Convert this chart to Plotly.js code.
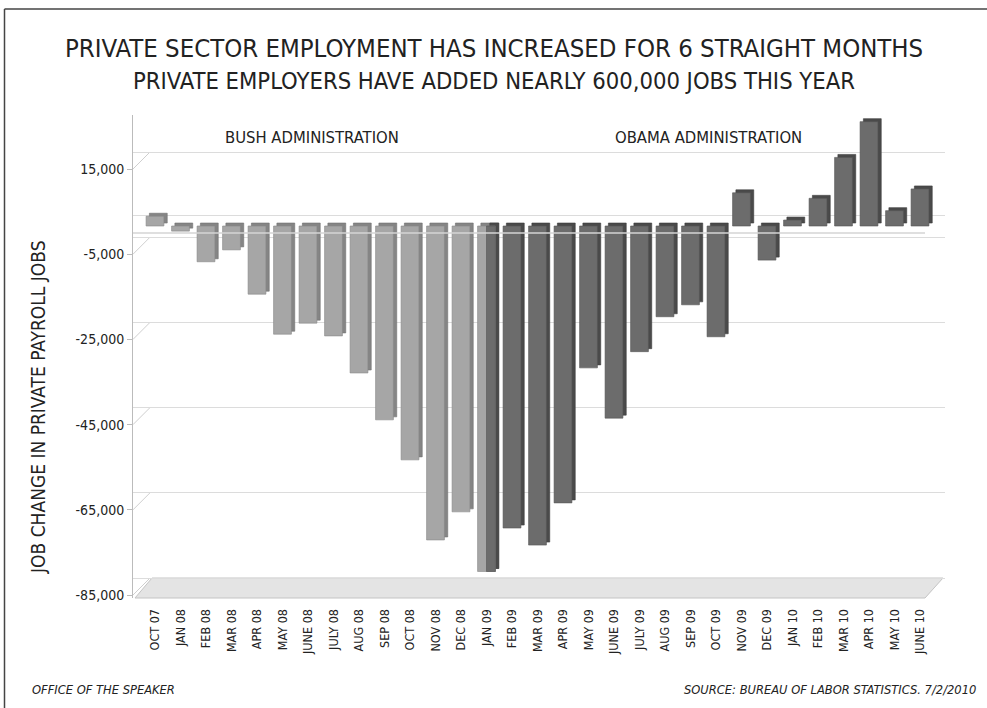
<!DOCTYPE html>
<html><head><meta charset="utf-8">
<script src="https://cdn.plot.ly/plotly-3.0.1.min.js"></script>
<style>html,body{margin:0;padding:0;background:#fff}#chart{width:987px;height:708px}</style>
</head><body><div id="chart"></div>
<script>
// ---- data ----
const months = ['OCT 07','JAN 08','FEB 08','MAR 08','APR 08','MAY 08','JUNE 08','JULY 08','AUG 08','SEP 08',
  'OCT 08','NOV 08','DEC 08','JAN 09','FEB 09','MAR 09','APR 09','MAY 09','JUNE 09','JULY 09','AUG 09',
  'SEP 09','OCT 09','NOV 09','DEC 09','JAN 10','FEB 10','MAR 10','APR 10','MAY 10','JUNE 10'];
const jobs = [2300,-1200,-8400,-5600,-16000,-25400,-22800,-25800,-34500,-45500,
  -54900,-73700,-67100,-81100,-70900,-74900,-65000,-33300,-45100,-29500,-21300,
  -18500,-26000,7800,-8000,1400,6500,16100,24500,3600,8700];
const transitionMonth = 'JAN 09';
const yTicks = [15000,-5000,-25000,-45000,-65000,-85000];
const yTickText = ['15,000','-5,000','-25,000','-45,000','-65,000','-85,000'];
const adminLabels = ['BUSH ADMINISTRATION','OBAMA ADMINISTRATION'];
const titleLines = ['PRIVATE SECTOR EMPLOYMENT HAS INCREASED FOR 6 STRAIGHT MONTHS',
  'PRIVATE EMPLOYERS HAVE ADDED NEARLY 600,000 JOBS THIS YEAR'];
const yTitle = 'JOB CHANGE IN PRIVATE PAYROLL JOBS';
const footLeft = 'OFFICE OF THE SPEAKER';
const footRight = 'SOURCE: BUREAU OF LABOR STATISTICS. 7/2/2010';

// ---- geometry ----
const W = 987, H = 708;
const M = {l:133, r:42, t:115, b:110};
const PW = W - M.l - M.r, PH = H - M.t - M.b;
const pxPerUnit = 4.26/1000;
const span = PH / pxPerUnit;
const px2x = p => (p - M.l) / PW;
const py2y = p => (H - M.b - p) / PH;
function rangeFor(v, py){ const top = v + (py - M.t)/pxPerUnit; return [top - span, top]; }
const labelRange = rangeFor(15000, 169);
const barRange = rangeFor(0, 226);
const gridRange = rangeFor(15000, 152);
const catStep = 25.5, firstCenter = 155;
const x0 = -(firstCenter - M.l)/catStep;
const xRange = [x0, x0 + PW/catStep];

const split = months.indexOf(transitionMonth);
const BW = 0.7, DX = 0.13, LIFT = 700;
const bushY = jobs.map((v,i)=> i<=split ? v : null);
const obamaY = jobs.map((v,i)=> i>=split ? v : null);
const obW = months.map((m,i)=> i===split ? BW/2 : BW);
const obOff = months.map((m,i)=> i===split ? 0 : -BW/2);
const lift = months.map(()=>LIFT);

const FONT = "'Liberation Sans Narrow','Arial Narrow','DejaVu Sans Condensed',sans-serif";

function barTrace(y, color, line, width, offset, base, dx){
  return {type:'bar', x:months, y:y, yaxis:'y2', width:width,
    offset: Array.isArray(offset) ? offset.map(o=>o+dx) : offset+dx,
    base: base, marker:{color:color, line:{color:line, width:0.6}},
    hoverinfo:'skip', showlegend:false};
}
const traces = [
  {type:'scatter', x:[], y:[], yaxis:'y', hoverinfo:'skip', showlegend:false},
  {type:'scatter', x:[], y:[], yaxis:'y3', hoverinfo:'skip', showlegend:false},
  barTrace(bushY, '#858585', '#707070', BW, -BW/2, lift, DX),
  barTrace(obamaY, '#4a4a4a', '#3c3c3c', obW, obOff, lift, DX),
  barTrace(bushY, '#a6a6a6', '#888888', BW, -BW/2, undefined, 0),
  barTrace(obamaY, '#6c6c6c', '#555555', obW, obOff, undefined, 0)
];

const shapes = [
  {type:'path', xref:'paper', yref:'paper', layer:'below',
   path:`M ${px2x(135)},${py2y(598)} L ${px2x(152)},${py2y(578)} L ${px2x(943)},${py2y(578)} L ${px2x(925)},${py2y(598)} Z`,
   fillcolor:'#e4e4e4', line:{color:'#c4c4c4', width:1}},
  {type:'line', xref:'paper', yref:'y', x0:0, x1:px2x(925), y0:0, y1:0, layer:'above',
   line:{color:'#d4d4d4', width:1.5}},
  {type:'line', xref:'paper', yref:'paper', x0:px2x(4.5), x1:px2x(990), y0:py2y(9), y1:py2y(9), line:{color:'#444', width:1.5}},
  {type:'line', xref:'paper', yref:'paper', x0:px2x(4.5), x1:px2x(4.5), y0:py2y(9), y1:py2y(712), line:{color:'#444', width:1.5}}
];
yTicks.forEach(v=>{
  shapes.push({type:'line', xref:'paper', yref:'y', x0:0, x1:px2x(150), y0:v, y1:v + 17/pxPerUnit,
    layer:'below', line:{color:'#cfcfcf', width:1}});
});

const ann = (text, px, py, size, extra) => Object.assign({text:text, xref:'paper', yref:'paper',
  x:px2x(px), y:py2y(py), xanchor:'center', yanchor:'middle', showarrow:false,
  font:{family:FONT, size:size, color:'#222'}}, extra||{});

const layout = {
  width:W, height:H, margin:M, paper_bgcolor:'#fff', plot_bgcolor:'rgba(0,0,0,0)',
  barmode:'overlay', showlegend:false, font:{family:FONT, color:'#222'},
  xaxis:{type:'category', categoryorder:'array', categoryarray:months, range:xRange,
    tickangle:-90, ticks:'outside', ticklen:5, tickcolor:'rgba(0,0,0,0)', showgrid:false,
    zeroline:false, showline:false, tickfont:{family:FONT, size:12.5, color:'#222'}, fixedrange:true},
  yaxis:{range:labelRange, tickvals:yTicks, ticktext:yTickText, ticks:'outside', ticklen:5,
    tickcolor:'#bbb', showline:true, linecolor:'#bbb', linewidth:1, showgrid:false, zeroline:false,
    tickfont:{family:FONT, size:14, color:'#222'}, fixedrange:true},
  yaxis2:{range:barRange, overlaying:'y', visible:false, showgrid:false, zeroline:false, fixedrange:true},
  yaxis3:{range:gridRange, overlaying:'y', tickvals:yTicks.concat([0]), showticklabels:false, ticks:'',
    showgrid:true, gridcolor:'#dcdcdc', gridwidth:1, zeroline:false, showline:false, fixedrange:true},
  shapes:shapes,
  annotations:[
    ann(titleLines[0], 494, 48, 25.5),
    ann(titleLines[1], 494, 81, 23.6),
    ann(adminLabels[0], 312, 137, 16.5),
    ann(adminLabels[1], 708, 137, 16.5),
    ann(yTitle, 38, 408, 19, {textangle:-90}),
    ann(footLeft, 30, 689, 12.8, {xanchor:'left', font:{family:FONT, size:12.8, color:'#222', style:'italic'}}),
    ann(footRight, 978, 689, 12.8, {xanchor:'right', font:{family:FONT, size:12.8, color:'#222', style:'italic'}})
  ]
};
Plotly.newPlot('chart', traces, layout, {staticPlot:true, displayModeBar:false});
</script></body></html>
